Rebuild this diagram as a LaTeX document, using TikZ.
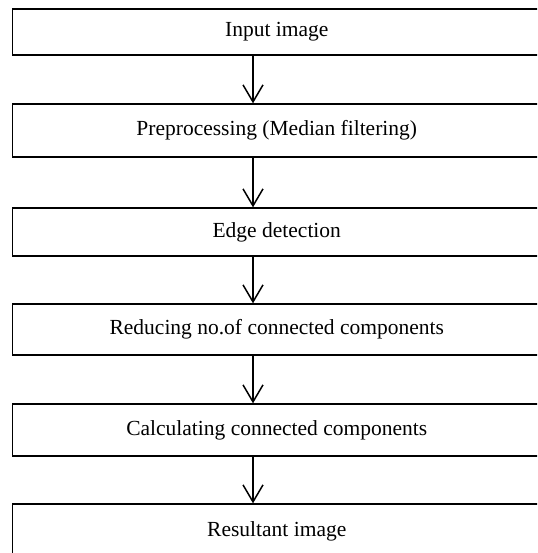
\documentclass[tikz,border=0pt]{standalone}
\usepackage{fontspec}
\setmainfont{Liberation Serif}
\usetikzlibrary{arrows.meta}
\begin{document}
\begin{tikzpicture}[x=1pt,y=-1pt,
  stepbox/.style={draw=black, line width=1.3pt, rectangle, minimum width=528.5pt,
    inner sep=0pt, font=\fontsize{21.5}{26}\selectfont, text=black},
  flow/.style={draw=black, line width=1.5pt,
    -{Straight Barb[length=17pt, width=20pt, line width=1.5pt]}}]
  \useasboundingbox (0,0) rectangle (537,553);
  \clip (0,0) rectangle (537,553);
  \fill[white] (0,0) rectangle (537,553);
  % process steps
  \node[stepbox, minimum height=46pt] (b1) at (276.75,32) {Input image};
  \node[stepbox, minimum height=53pt] (b2) at (276.75,130.5) {Preprocessing (Median filtering)};
  \node[stepbox, minimum height=48pt] (b3) at (276.75,232) {Edge detection};
  \node[stepbox, minimum height=51pt] (b4) at (276.75,329.5) {Reducing no.of connected components};
  \node[stepbox, minimum height=52pt] (b5) at (276.75,430) {Calculating connected components};
  \node[stepbox, minimum height=54pt] (b6) at (276.75,531) {Resultant image};
  % column of the connectors
  \coordinate (ax) at (253,0);
  \draw[flow] (b1.south -| ax) -- (b2.north -| ax);
  \draw[flow] (b2.south -| ax) -- (b3.north -| ax);
  \draw[flow] (b3.south -| ax) -- (b4.north -| ax);
  \draw[flow] (b4.south -| ax) -- (b5.north -| ax);
  \draw[flow] (b5.south -| ax) -- (b6.north -| ax);
\end{tikzpicture}
\end{document}
